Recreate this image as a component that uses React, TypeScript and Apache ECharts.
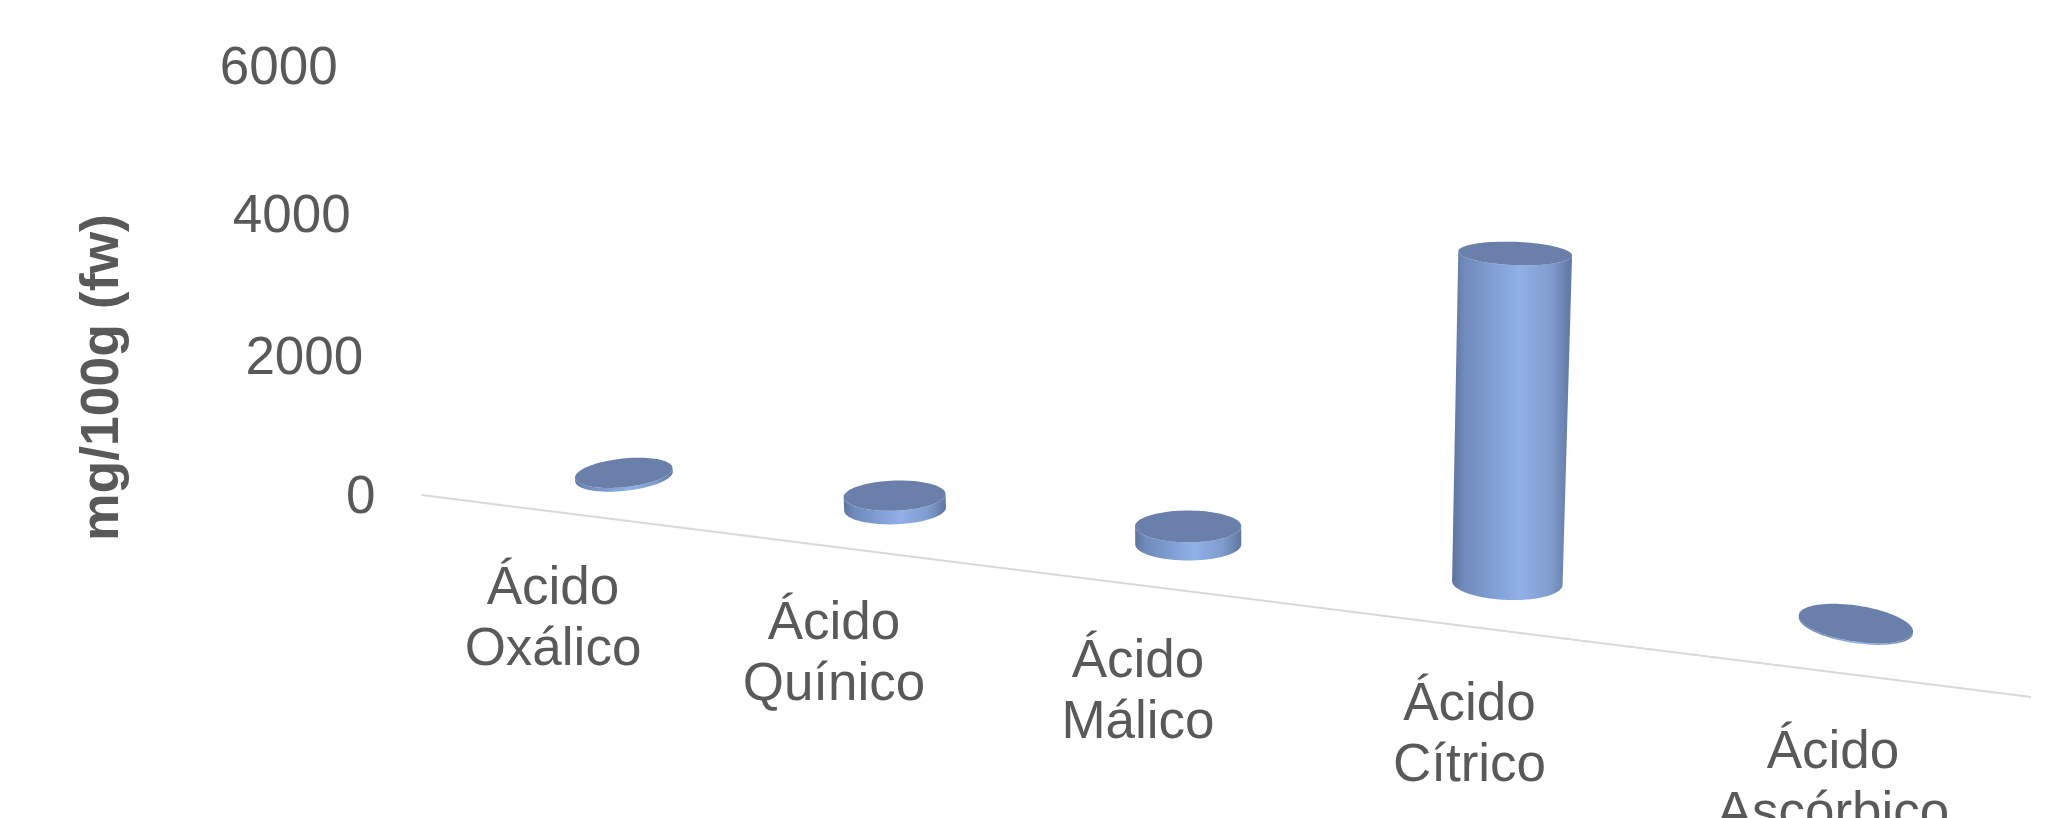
import React, { useEffect, useRef } from "react";
import * as echarts from "echarts";

// Organic acid content, mg/100g fresh weight
const categories = ["Ácido\nOxálico", "Ácido\nQuínico", "Ácido\nMálico", "Ácido\nCítrico", "Ácido\nAscórbico"];
const acidValues = [50, 170, 210, 3470, 15];
const yTicks = [0, 2000, 4000, 6000];
const yAxisTitle = "mg/100g (fw)";

const FONT = '"Liberation Sans", Arial, sans-serif';
const TEXT_COLOR = "#595959";
const ORIGIN_Y = 494;

// Perspective helpers: turn flat grid pixels into the receding floor and leaning verticals
const floorX = (u: number) =>
  553 + 281 * u + (23 * u * (u - 1)) / 2 + (4.5 * u * (u - 1) * (u - 2)) / 6;
const floorY = (x: number) => ORIGIN_Y + 0.1255 * (x - 421);
const rise = (h: number) => h * (0.951 + 0.0001146 * h);
const nearScale = (x: number) => 1 + (x - 421) * 0.00033;
const lean = (x: number) => -0.0885 + (x - 337) * 0.000096;
const discTilt = (x: number) => {
  const d = x - 1188;
  return ((0.005 * d + 1.8e-8 * d * d * d) * Math.PI) / 180;
};

const bandPos = (px: number, cs: any) => (px - cs.x) / (cs.width / categories.length) - 0.5;

function ellipsePoints(cx: number, cy: number, rx: number, ry: number, rot: number, from: number, to: number, n = 72) {
  const pts: number[][] = [];
  const c = Math.cos(rot);
  const s = Math.sin(rot);
  for (let k = 0; k <= n; k++) {
    const t = from + ((to - from) * k) / n;
    const ex = rx * Math.cos(t);
    const ey = ry * Math.sin(t);
    pts.push([cx + ex * c - ey * s, cy + ex * s + ey * c]);
  }
  return pts;
}

const renderCylinder = (params: any, api: any) => {
  const i = api.value(0);
  const v = api.value(1);
  const cs = params.coordSys;
  const base = api.coord([i, 0]);
  const top = api.coord([i, v]);
  const u = bandPos(base[0], cs);

  // Each cylinder stands a little behind the axis line, towards the back of the floor
  const cx = floorX(u) + 71 - 9.8 * u - 0.14 * u * u * u;
  const cy = floorY(cx) - (43 + 1.5 * u);
  const h = rise(base[1] - top[1]) * nearScale(cx);
  const tx = cx + lean(cx) * h;
  const ty = cy - h;

  const rot = discTilt(cx);
  const rx = 49 * (1 + 0.000145 * (cx - 624));
  const ry = 14.4 + 0.9 * u;
  const rxTop = rx + h * 0.005;
  const ryTop = Math.max(ry - h * 0.0165, 4);

  const frontArc = ellipsePoints(cx, cy, rx, ry, rot, Math.PI, 0);
  const topRim = ellipsePoints(tx, ty, rxTop, ryTop, rot, 0, Math.PI);

  return {
    type: "group",
    children: [
      {
        type: "polygon",
        shape: { points: frontArc.concat(topRim) },
        style: {
          fill: new echarts.graphic.LinearGradient(0, 0, 1, 0, [
            { offset: 0, color: "#5d749e" },
            { offset: 0.1, color: "#6f8abb" },
            { offset: 0.35, color: "#809fd5" },
            { offset: 0.56, color: "#90b0e8" },
            { offset: 0.82, color: "#809cce" },
            { offset: 1, color: "#5f76a0" },
          ]),
        },
      },
      {
        type: "polygon",
        shape: { points: ellipsePoints(tx, ty, rxTop, ryTop, rot, 0, Math.PI * 2, 96) },
        style: { fill: "#6a80aa" },
      },
    ],
  };
};

const renderBaseline = (params: any) => {
  const cs = params.coordSys;
  const x1 = floorX(-0.5) + 2;
  const x2 = floorX(bandPos(cs.x + cs.width, cs)) + 3;
  return {
    type: "line",
    shape: { x1, y1: floorY(x1) + 1, x2, y2: floorY(x2) + 1 },
    style: { stroke: "#d9d9d9", lineWidth: 2 },
  };
};

const renderCategoryLabel = (params: any, api: any) => {
  const i = api.value(0);
  const base = api.coord([i, 0]);
  const u = bandPos(base[0], params.coordSys);
  const x = floorX(u);
  return {
    type: "text",
    style: {
      text: categories[i],
      x,
      y: floorY(x) + 44 + 0.0156 * u * u * u * u,
      align: "center",
      verticalAlign: "top",
      fontFamily: FONT,
      fontSize: 53,
      lineHeight: 61,
      fill: TEXT_COLOR,
    },
  };
};

const renderTickLabel = (_params: any, api: any) => {
  const v = api.value(1);
  const p = api.coord([0, v]);
  const h = rise(ORIGIN_Y - p[1]);
  return {
    type: "text",
    style: {
      text: String(v),
      x: 375.5 - 0.0885 * h,
      y: ORIGIN_Y - h,
      align: "right",
      verticalAlign: "middle",
      fontFamily: FONT,
      fontSize: 53,
      fill: TEXT_COLOR,
    },
  };
};

export default function App() {
  const ref = useRef<HTMLDivElement>(null);

  useEffect(() => {
    if (!ref.current) return;
    const chart = echarts.init(ref.current, undefined, { renderer: "svg" });
    chart.setOption({
      animation: false,
      backgroundColor: "#ffffff",
      grid: { left: 421, top: 66, width: 1609, height: 428 },
      xAxis: { type: "category", data: categories, show: false },
      yAxis: { type: "value", min: 0, max: 6000, interval: 2000, show: false },
      graphic: [
        {
          type: "text",
          x: 99.5,
          y: 377.6,
          rotation: Math.PI / 2,
          style: {
            text: yAxisTitle,
            align: "center",
            verticalAlign: "middle",
            fontFamily: FONT,
            fontWeight: "bold",
            fontSize: 53.5,
            fill: TEXT_COLOR,
          },
        },
      ],
      series: [
        { type: "custom", clip: false, silent: true, z: 1, data: [[0, 0]], renderItem: renderBaseline },
        {
          type: "custom",
          clip: false,
          silent: true,
          z: 2,
          encode: { x: 0, y: 1 },
          data: acidValues.map((v, i) => [i, v]),
          renderItem: renderCylinder,
        },
        {
          type: "custom",
          clip: false,
          silent: true,
          z: 3,
          encode: { x: 0, y: 1 },
          data: categories.map((_, i) => [i, 0]),
          renderItem: renderCategoryLabel,
        },
        {
          type: "custom",
          clip: false,
          silent: true,
          z: 3,
          encode: { x: 0, y: 1 },
          data: yTicks.map((v) => [0, v]),
          renderItem: renderTickLabel,
        },
      ],
    });
    return () => chart.dispose();
  }, []);

  return (
    <div
      ref={ref}
      style={{ position: "absolute", left: 0, top: 0, width: 2066, height: 818, overflow: "hidden" }}
    />
  );
}
